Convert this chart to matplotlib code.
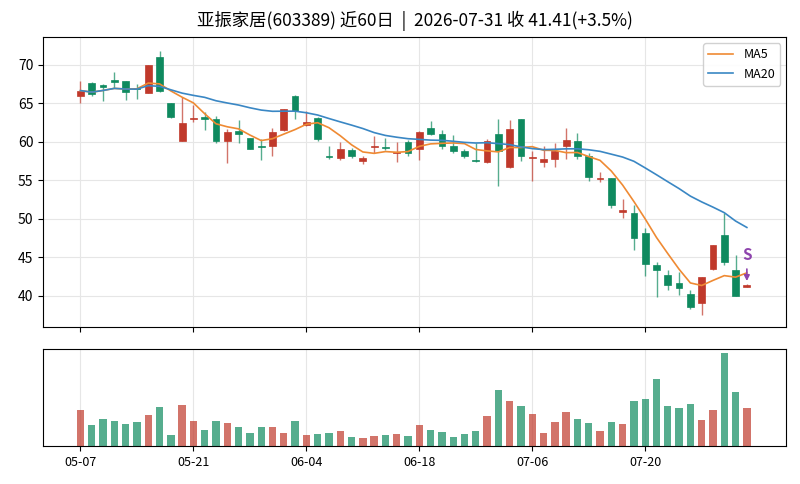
import matplotlib
matplotlib.use("Agg")
import matplotlib.pyplot as plt
import numpy as np
import pandas as pd

plt.rcParams['font.family'] = ['Noto Sans CJK SC', 'DejaVu Sans']

# daily OHLC
opens = [66.0, 67.7, 67.4, 68.0, 67.9, 66.95, 66.4, 71.0, 65.0, 60.1,
         63.0, 63.2, 63.0, 60.1, 61.35, 60.5, 59.45, 59.5, 61.5, 66.0,
         62.15, 63.15, 58.2, 57.9, 58.95, 57.45, 59.35, 59.3, 58.5, 60.0,
         59.1, 61.8, 61.0, 59.5, 58.85, 57.6, 57.35, 61.05, 56.7, 62.95,
         57.95, 57.35, 57.75, 59.4, 60.05, 58.1, 55.2, 55.3, 50.85, 50.75,
         48.2, 44.05, 42.7, 41.65, 40.2, 39.05, 43.45, 47.9, 43.35, 41.2]
highs = [67.95, 67.8, 67.45, 69.05, 67.9, 67.5, 70.0, 71.8, 65.0, 65.8,
         64.8, 63.85, 63.4, 61.65, 62.8, 60.5, 60.35, 61.85, 64.3, 66.05,
         64.05, 63.2, 59.4, 59.95, 59.2, 58.1, 60.7, 60.5, 59.95, 60.25,
         61.35, 62.75, 61.55, 60.9, 59.05, 59.85, 60.3, 63.0, 62.8, 63.0,
         58.75, 59.4, 59.85, 61.8, 61.1, 58.55, 56.05, 55.3, 52.6, 51.8,
         48.8, 44.45, 43.4, 43.15, 40.7, 42.5, 46.65, 50.75, 45.3, 41.5]
lows = [65.0, 66.0, 65.3, 67.0, 65.4, 65.55, 66.3, 66.5, 63.1, 60.1,
        62.6, 61.55, 59.8, 57.2, 59.85, 59.0, 57.7, 58.1, 61.45, 63.0,
        62.0, 60.05, 57.8, 57.6, 57.9, 57.15, 58.55, 58.95, 57.4, 58.1,
        57.6, 60.9, 59.05, 58.5, 57.9, 57.35, 57.2, 54.3, 56.6, 57.5,
        54.9, 56.7, 56.7, 57.8, 57.75, 54.95, 54.75, 51.4, 50.1, 46.0,
        42.6, 39.8, 40.8, 40.15, 38.25, 37.5, 43.4, 44.0, 40.0, 41.1]
closes = [66.65, 66.25, 67.1, 67.75, 66.5, 66.8, 70.0, 66.55, 63.2, 62.4,
          63.1, 62.95, 60.05, 61.25, 61.05, 59.1, 59.35, 61.25, 64.25, 64.0,
          62.55, 60.35, 58.0, 59.05, 58.1, 57.9, 59.45, 59.15, 58.6, 58.55,
          61.3, 61.05, 59.5, 58.85, 58.1, 57.5, 60.15, 58.85, 61.7, 58.1,
          58.05, 57.8, 58.75, 60.25, 58.2, 55.4, 55.35, 51.8, 51.15, 47.5,
          44.1, 43.3, 41.35, 41.0, 38.6, 42.45, 46.6, 44.45, 40.01, 41.41]
volumes = [36.0, 21.3, 27.0, 25.3, 22.3, 24.3, 31.0, 38.7, 11.0, 40.7,
           24.7, 16.0, 25.3, 23.3, 18.7, 12.7, 18.7, 18.7, 13.0, 25.3,
           11.0, 12.0, 13.0, 15.0, 9.0, 8.0, 10.0, 11.0, 12.0, 10.0,
           20.7, 16.0, 14.0, 9.0, 12.0, 15.0, 30.0, 56.0, 45.3, 39.7,
           32.0, 12.7, 24.3, 34.0, 27.0, 23.3, 15.0, 24.3, 22.3, 45.3,
           47.3, 67.3, 39.7, 37.7, 41.7, 26.3, 36.0, 93.3, 54.0, 37.7]
tick_pos = [0, 10, 20, 30, 40, 50]
tick_labels = ["05-07", "05-21", "06-04", "06-18", "07-06", "07-20"]

df = pd.DataFrame({"open": opens, "high": highs, "low": lows,
                   "close": closes, "vol": volumes})
ma5 = df["close"].rolling(5, min_periods=1).mean()
ma20 = df["close"].rolling(20, min_periods=1).mean()
x = np.arange(len(df))

up_c = "#c0392b"
dn_c = "#0f8a5f"
colors = [up_c if c >= o else dn_c for o, c in zip(df["open"], df["close"])]

fig = plt.figure(figsize=(8, 4.84), dpi=100)
ax = fig.add_axes([0.054, 0.3244, 0.929, 0.599])
axv = fig.add_axes([0.054, 0.0785, 0.929, 0.1998])

# candles
ax.vlines(x, df["low"], df["high"], colors=colors, linewidth=1, alpha=0.7, zorder=2)
body_lo = np.minimum(df["open"], df["close"])
body_h = np.maximum(np.abs(df["close"] - df["open"]), 0.12)
ax.bar(x, body_h, bottom=body_lo, width=0.6, color=colors, edgecolor=colors,
       linewidth=0.5, zorder=3)

ax.plot(x, ma5, color="#ef8a33", linewidth=1.2, label="MA5", zorder=4)
ax.plot(x, ma20, color="#3a87c4", linewidth=1.2, label="MA20", zorder=4)

ax.annotate("S", xy=(x[-1], df["high"].iloc[-1] * 1.01),
            xytext=(x[-1], df["high"].iloc[-1] * 1.09),
            ha="center", va="center", fontsize=11, fontweight="bold", color="#8e44ad",
            arrowprops=dict(arrowstyle="-|>", color="#8e44ad", lw=1.2,
                            mutation_scale=8, shrinkB=0),
            zorder=5)

ax.set_xlim(-3.3, 62.5)
ax.set_ylim(35.95, 73.6)
ax.set_yticks([40, 45, 50, 55, 60, 65, 70])
ax.set_xticks(tick_pos)
ax.set_xticklabels([])
ax.grid(True, color="#e6e6e6", linewidth=0.8)
ax.set_axisbelow(True)
ax.tick_params(labelsize=10)
ax.legend(loc="upper right", fontsize=9, framealpha=0.9, edgecolor="#cccccc")

title = f"亚振家居(603389) 近60日  |  2026-07-31 收 41.41(+3.5%)"
ax.set_title(title, fontsize=12.5, pad=8)

# volume
axv.bar(x, df["vol"], width=0.65, color=colors, alpha=0.7, zorder=2)
axv.set_xlim(-3.3, 62.5)
axv.set_ylim(0, df["vol"].max() * 1.036)
axv.set_yticks([])
axv.set_xticks(tick_pos)
axv.set_xticklabels(tick_labels)
axv.tick_params(labelsize=9)
axv.grid(True, axis="x", color="#e6e6e6", linewidth=0.8)
axv.set_axisbelow(True)

fig.savefig("out.png", dpi=100)
